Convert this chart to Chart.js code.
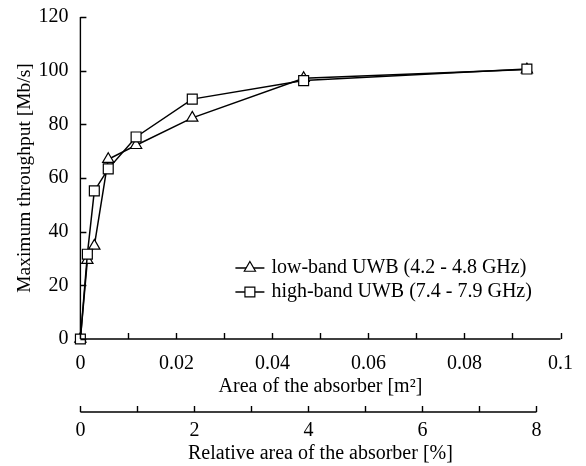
<!DOCTYPE html>
<html>
<head>
<meta charset="utf-8">
<script src="https://cdn.jsdelivr.net/npm/chart.js@4"></script>
<style>
  body { margin: 0; background: #fff; }
</style>
</head>
<body>
<canvas id="chart" width="586" height="466"></canvas>
<script>
// Data
const areaM2 = [0, 0.00145, 0.0029, 0.0058, 0.0116, 0.0233, 0.0465, 0.093];
const lowBand = [0, 29.4, 34.7, 67.0, 72.2, 82.4, 97.2, 100.4];
const highBand = [0, 31.6, 55.2, 63.4, 75.3, 89.4, 96.3, 100.6];
const seriesLabels = ['low-band UWB (4.2 - 4.8 GHz)', 'high-band UWB (7.4 - 7.9 GHz)'];
const yTitle = 'Maximum throughput [Mb/s]';
const xTitle = 'Area of the absorber [m\u00B2]';
const x2Title = 'Relative area of the absorber [%]';
// 8 % of the surface corresponds to 0.095 m2
const relMaxShown = 8;
const relAtAxisEnd = 8 / 0.95;

const serif = "'Liberation Serif', 'Times New Roman', serif";
Chart.defaults.font.family = serif;
Chart.defaults.font.size = 20;
Chart.defaults.color = '#000';

// axis lines and inward tick marks
const inwardTicks = {
  id: 'inwardTicks',
  afterDraw(chart) {
    const ctx = chart.ctx;
    const { x, y, x2 } = chart.scales;
    const area = chart.chartArea;
    ctx.save();
    ctx.strokeStyle = '#000';
    ctx.lineWidth = 1.4;
    ctx.beginPath();
    // y axis
    ctx.moveTo(area.left, y.getPixelForValue(y.max));
    ctx.lineTo(area.left, area.bottom);
    y.ticks.forEach(t => {
      const py = Math.round(y.getPixelForValue(t.value)) + 0.5;
      ctx.moveTo(area.left, py);
      ctx.lineTo(area.left + 6, py);
    });
    // x axis
    ctx.moveTo(area.left, area.bottom);
    ctx.lineTo(x.getPixelForValue(x.max), area.bottom);
    x.ticks.forEach(t => {
      const px = Math.round(x.getPixelForValue(t.value)) + 0.5;
      ctx.moveTo(px, area.bottom);
      ctx.lineTo(px, area.bottom - 6);
    });
    // relative area axis
    const top = x2.top;
    ctx.moveTo(x2.getPixelForValue(0), top);
    ctx.lineTo(x2.getPixelForValue(relMaxShown), top);
    x2.ticks.forEach(t => {
      if (t.value > relMaxShown) return;
      const px = Math.round(x2.getPixelForValue(t.value)) + 0.5;
      ctx.moveTo(px, top);
      ctx.lineTo(px, top - 6);
    });
    ctx.stroke();
    ctx.restore();
  }
};

// legend inside the plot, line through marker
const lineLegend = {
  id: 'lineLegend',
  afterDraw(chart) {
    const ctx = chart.ctx;
    const area = chart.chartArea;
    const x0 = area.left + 155;
    const y0 = area.bottom - 71;
    ctx.save();
    chart.data.datasets.forEach((ds, i) => {
      const yy = y0 + i * 24;
      ctx.strokeStyle = '#000';
      ctx.lineWidth = 1.5;
      ctx.beginPath();
      ctx.moveTo(x0, yy);
      ctx.lineTo(x0 + 29, yy);
      ctx.stroke();
      ctx.fillStyle = '#fff';
      ctx.lineWidth = 1.2;
      Chart.helpers.drawPoint(ctx, {
        pointStyle: ds.pointStyle, radius: ds.pointRadius, rotation: 0, borderWidth: 1.2
      }, x0 + 14.5, yy);
      ctx.fillStyle = '#000';
      ctx.font = '20px ' + serif;
      ctx.textBaseline = 'middle';
      ctx.fillText(ds.label, x0 + 36, yy);
    });
    ctx.restore();
  }
};

const toPoints = ys => ys.map((v, i) => ({ x: areaM2[i], y: v }));

new Chart(document.getElementById('chart'), {
  type: 'line',
  data: {
    datasets: [
      {
        label: seriesLabels[0],
        data: toPoints(lowBand),
        borderColor: '#000',
        borderWidth: 1.5,
        pointStyle: 'triangle',
        pointRadius: 6.5,
        pointBackgroundColor: '#fff',
        pointBorderColor: '#000',
        pointBorderWidth: 1.2,
        clip: false,
        order: 2
      },
      {
        label: seriesLabels[1],
        data: toPoints(highBand),
        borderColor: '#000',
        borderWidth: 1.5,
        pointStyle: 'rect',
        pointRadius: 7,
        pointBackgroundColor: '#fff',
        pointBorderColor: '#000',
        pointBorderWidth: 1.2,
        clip: false,
        order: 1
      }
    ]
  },
  options: {
    responsive: false,
    animation: false,
    layout: { padding: { top: 8, right: 8, bottom: 0, left: 9 } },
    plugins: {
      legend: { display: false },
      tooltip: { enabled: false }
    },
    scales: {
      x: {
        type: 'linear',
        position: 'bottom',
        weight: 0,
        min: 0,
        max: 0.1,
        grid: { display: false, drawTicks: false },
        border: { display: false },
        ticks: {
          stepSize: 0.01,
          padding: 13,
          maxRotation: 0,
          autoSkip: false,
          callback: (v, i) => (i % 2 === 0 ? String(+v.toFixed(2)) : '')
        },
        title: { display: true, text: xTitle, padding: { top: -14, bottom: 13 } }
      },
      x2: {
        type: 'linear',
        position: 'bottom',
        weight: 1,
        min: 0,
        max: relAtAxisEnd,
        grid: { display: false, drawTicks: false },
        border: { display: false },
        ticks: {
          stepSize: 1,
          includeBounds: false,
          padding: 7,
          maxRotation: 0,
          autoSkip: false,
          callback: (v) => (v % 2 === 0 && v <= relMaxShown ? String(v) : '')
        },
        title: { display: true, text: x2Title, padding: { top: -8, bottom: 0 } }
      },
      y: {
        min: 0,
        max: 120,
        grid: { display: false, drawTicks: false },
        border: { display: false },
        ticks: { stepSize: 20, padding: 12, font: { lineHeight: 0.5 } },
        title: {
          display: true, text: yTitle,
          font: { size: 19.5 },
          padding: { top: 4, bottom: -10 }
        }
      }
    }
  },
  plugins: [inwardTicks, lineLegend]
});
</script>
</body>
</html>
